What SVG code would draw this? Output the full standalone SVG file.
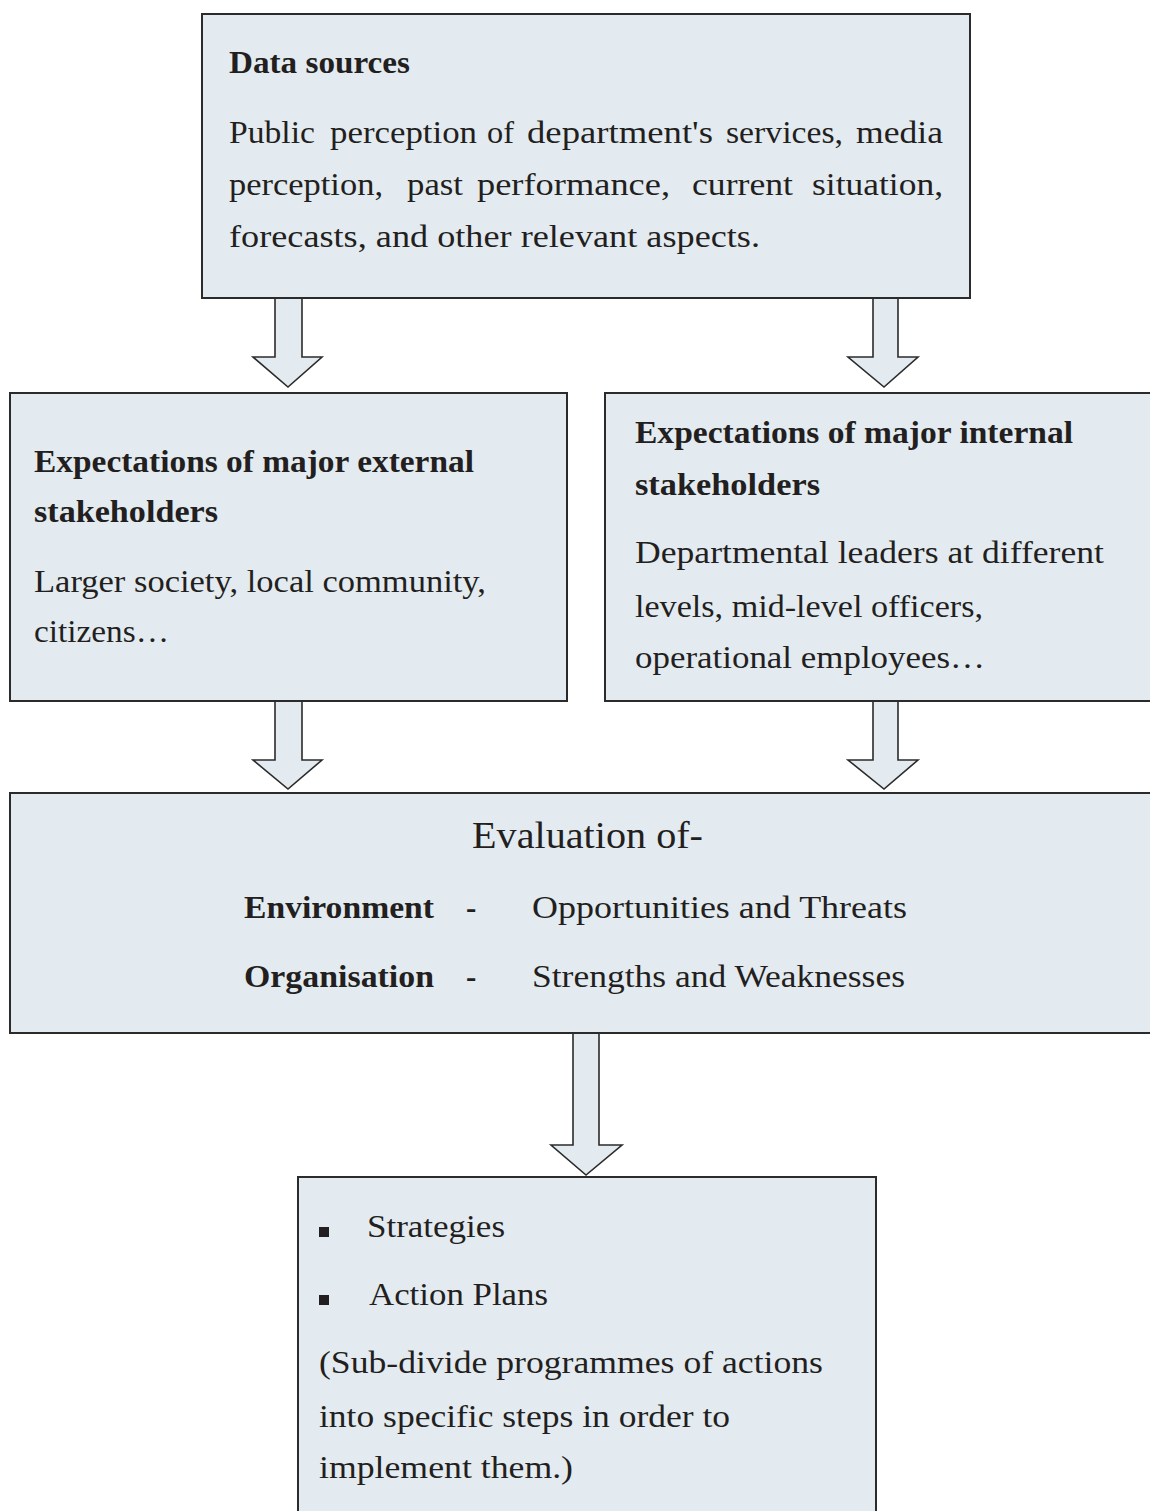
<svg xmlns="http://www.w3.org/2000/svg" width="1150" height="1511" viewBox="0 0 1150 1511">
<style>
.box{fill:#e3ebf1;stroke:#2b2b2b;stroke-width:2}
.arr{fill:#e3ebf1;stroke:#2b2b2b;stroke-width:1.6;stroke-linejoin:miter}
text{font-family:"Liberation Serif","Times New Roman",serif;fill:#231f20}
.t{font-size:31px}
.b{font-size:31px;font-weight:bold}
.big{font-size:37px}
</style>
<rect width="1150" height="1511" fill="#ffffff"/>
<g id="connectors">
<polygon class="arr" points="275,298 302,298 302,357 322,357 288,387 253,357 275,357"/>
<polygon class="arr" points="873,298 898,298 898,357 918,357 884,387 848,357 873,357"/>
<polygon class="arr" points="275,701 302,701 302,760 322,760 288,789 253,760 275,760"/>
<polygon class="arr" points="873,701 898,701 898,760 918,760 884,789 848,760 873,760"/>
<polygon class="arr" points="573,1033 599,1033 599,1145 622,1145 586,1175 551,1145 573,1145"/>
</g>
<g id="data-sources">
<rect class="box" x="202" y="14" width="768" height="284"/>
<text class="b" x="229" y="73" textLength="181" lengthAdjust="spacingAndGlyphs">Data sources</text>
<g class="t">
<text class="t" x="229" y="143" textLength="86" lengthAdjust="spacingAndGlyphs">Public</text>
<text class="t" x="330" y="143" textLength="147" lengthAdjust="spacingAndGlyphs">perception</text>
<text class="t" x="487" y="143" textLength="27" lengthAdjust="spacingAndGlyphs">of</text>
<text class="t" x="527" y="143" textLength="186" lengthAdjust="spacingAndGlyphs">department's</text>
<text class="t" x="726" y="143" textLength="117" lengthAdjust="spacingAndGlyphs">services,</text>
<text class="t" x="856" y="143" textLength="87" lengthAdjust="spacingAndGlyphs">media</text>
<text class="t" x="229" y="195" textLength="154" lengthAdjust="spacingAndGlyphs">perception,</text>
<text class="t" x="407" y="195" textLength="56" lengthAdjust="spacingAndGlyphs">past</text>
<text class="t" x="477" y="195" textLength="193" lengthAdjust="spacingAndGlyphs">performance,</text>
<text class="t" x="692" y="195" textLength="101" lengthAdjust="spacingAndGlyphs">current</text>
<text class="t" x="812" y="195" textLength="131" lengthAdjust="spacingAndGlyphs">situation,</text>
</g>
<text class="t" x="229" y="247" textLength="531" lengthAdjust="spacingAndGlyphs">forecasts, and other relevant aspects.</text>
</g>
<g id="external">
<rect class="box" x="10" y="393" width="557" height="308"/>
<text class="b" x="34" y="472" textLength="440" lengthAdjust="spacingAndGlyphs">Expectations of major external</text>
<text class="b" x="34" y="522" textLength="184" lengthAdjust="spacingAndGlyphs">stakeholders</text>
<text class="t" x="34" y="592" textLength="452" lengthAdjust="spacingAndGlyphs">Larger society, local community,</text>
<text class="t" x="34" y="642" textLength="135" lengthAdjust="spacingAndGlyphs">citizens…</text>
</g>
<g id="internal">
<rect class="box" x="605" y="393" width="552" height="308"/>
<text class="b" x="635" y="443" textLength="438" lengthAdjust="spacingAndGlyphs">Expectations of major internal</text>
<text class="b" x="635" y="495" textLength="185" lengthAdjust="spacingAndGlyphs">stakeholders</text>
<text class="t" x="635" y="563" textLength="469" lengthAdjust="spacingAndGlyphs">Departmental leaders at different</text>
<text class="t" x="635" y="617" textLength="348" lengthAdjust="spacingAndGlyphs">levels, mid-level officers,</text>
<text class="t" x="635" y="668" textLength="350" lengthAdjust="spacingAndGlyphs">operational employees…</text>
</g>
<g id="evaluation">
<rect class="box" x="10" y="793" width="1147" height="240"/>
<text class="big" x="472" y="848" textLength="231" lengthAdjust="spacingAndGlyphs">Evaluation of-</text>
<text class="b" x="244" y="918" textLength="190" lengthAdjust="spacingAndGlyphs">Environment</text>
<text class="b" x="466" y="918">-</text>
<text class="t" x="532" y="918" textLength="375" lengthAdjust="spacingAndGlyphs">Opportunities and Threats</text>
<text class="b" x="244" y="987" textLength="190" lengthAdjust="spacingAndGlyphs">Organisation</text>
<text class="b" x="466" y="987">-</text>
<text class="t" x="532" y="987" textLength="373" lengthAdjust="spacingAndGlyphs">Strengths and Weaknesses</text>
</g>
<g id="strategies">
<rect class="box" x="298" y="1177" width="578" height="345"/>
<rect x="319" y="1227" width="10" height="10" fill="#231f20"/>
<text class="t" x="367" y="1237" textLength="138" lengthAdjust="spacingAndGlyphs">Strategies</text>
<rect x="319" y="1295" width="10" height="10" fill="#231f20"/>
<text class="t" x="369" y="1305" textLength="179" lengthAdjust="spacingAndGlyphs">Action Plans</text>
<text class="t" x="319" y="1373" textLength="504" lengthAdjust="spacingAndGlyphs">(Sub-divide programmes of actions</text>
<text class="t" x="319" y="1427" textLength="411" lengthAdjust="spacingAndGlyphs">into specific steps in order to</text>
<text class="t" x="319" y="1478" textLength="254" lengthAdjust="spacingAndGlyphs">implement them.)</text>
</g>
</svg>
